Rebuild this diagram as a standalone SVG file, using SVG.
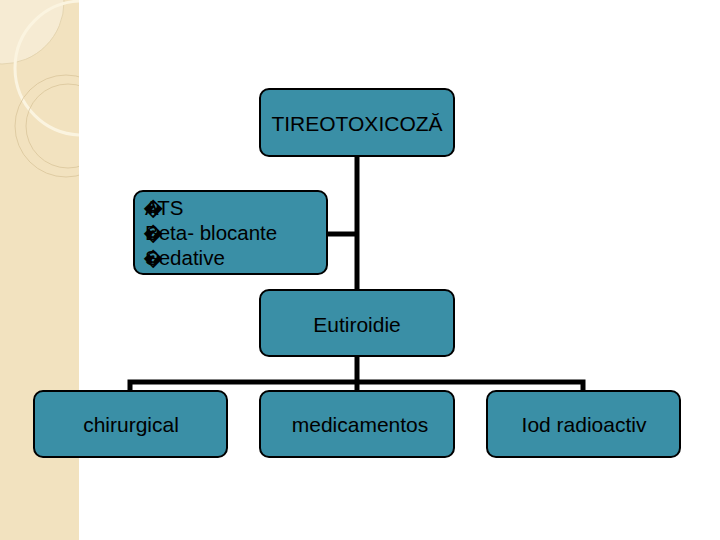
<svg xmlns="http://www.w3.org/2000/svg" width="720" height="540" viewBox="0 0 720 540">
<defs>
<clipPath id="side"><rect x="0" y="0" width="79" height="540"/></clipPath>
<style>
.box{fill:#3a8fa6;stroke:#000;stroke-width:2}
.t{font-family:"Liberation Sans",Arial,sans-serif;font-size:21px;fill:#000}
.s{font-size:20.5px}
.c{text-anchor:middle}
.ln{stroke:#000;stroke-width:5;fill:none}
</style>
</defs>
<rect x="0" y="0" width="720" height="540" fill="#fff"/>
<g id="sidebar" clip-path="url(#side)">
<rect x="0" y="0" width="79" height="540" fill="#f2e2bf"/>
<circle cx="2" cy="2" r="62" fill="#f6ebd3" stroke="#e0cfa8" stroke-width="0.8"/>
<circle cx="82" cy="68" r="67" fill="none" stroke="#fbf4e0" stroke-width="3"/>
<circle cx="66" cy="126" r="51" fill="none" stroke="#d9c59b" stroke-width="0.8"/>
<circle cx="68" cy="126" r="42" fill="none" stroke="#d9c59b" stroke-width="0.8"/>
</g>
<g id="connectors">
<path class="ln" d="M357 156 V290"/>
<path class="ln" d="M327 234 H357"/>
<path class="ln" d="M357 356 V391"/>
<path class="ln" d="M130 391 V382 H583 V391"/>
</g>
<g id="n-tireo"><rect class="box" x="260" y="89" width="194" height="67" rx="9"/><text class="t c" x="357" y="131">TIREOTOXICOZĂ</text></g>
<g id="n-ats"><rect class="box" x="134" y="191" width="193" height="83" rx="9"/>
<text class="t s" x="143" y="215">�<tspan x="145">ATS</tspan></text>
<text class="t s" x="143" y="240">�<tspan x="145">Beta- blocante</tspan></text>
<text class="t s" x="143" y="265">�<tspan x="145">Sedative</tspan></text></g>
<g id="n-eutiroidie"><rect class="box" x="260" y="290" width="194" height="66" rx="9"/><text class="t c" x="357" y="332">Eutiroidie</text></g>
<g id="n-chirurgical"><rect class="box" x="34" y="391" width="193" height="66" rx="9"/><text class="t c" x="131" y="432">chirurgical</text></g>
<g id="n-medicamentos"><rect class="box" x="260" y="391" width="194" height="66" rx="9"/><text class="t c" x="360" y="432">medicamentos</text></g>
<g id="n-iod"><rect class="box" x="487" y="391" width="193" height="66" rx="9"/><text class="t c" x="584" y="432">Iod radioactiv</text></g>
</svg>
